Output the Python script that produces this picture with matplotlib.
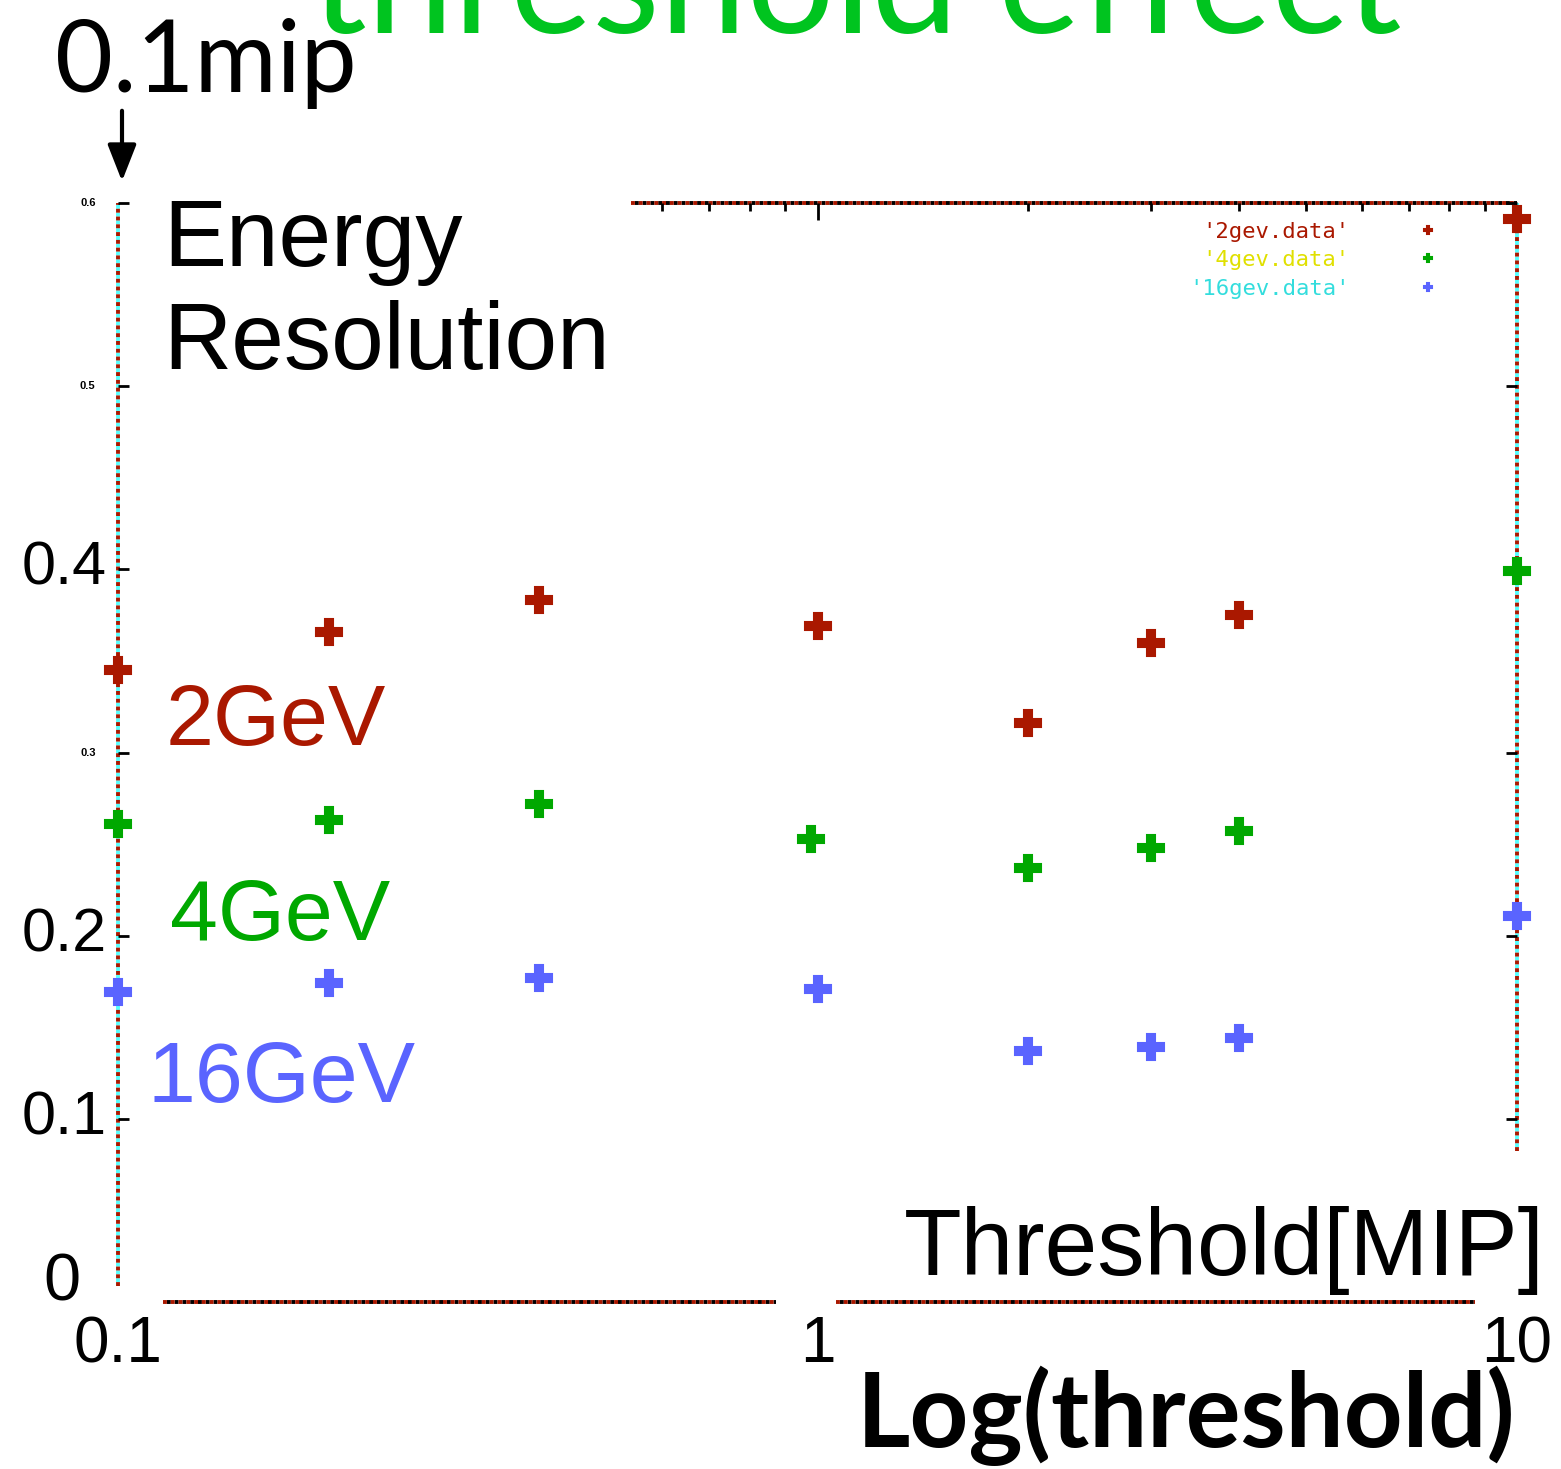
import matplotlib
matplotlib.use("Agg")
import matplotlib.pyplot as plt
from matplotlib.ticker import FixedLocator, NullFormatter

# threshold in MIP units and energy resolution per beam energy
threshold = [0.1, 0.2, 0.4, 1.0, 2.0, 3.0, 4.0, 10.0]
res_2gev = [0.345, 0.366, 0.383, 0.369, 0.316, 0.360, 0.375, 0.591]
res_4gev = [0.261, 0.263, 0.272, 0.253, 0.237, 0.248, 0.257, 0.399]
threshold_4gev = [0.1, 0.2, 0.4, 0.98, 2.0, 3.0, 4.0, 10.0]
res_16gev = [0.169, 0.174, 0.177, 0.171, 0.137, 0.139, 0.144, 0.211]

big_yticks = [0.1, 0.2, 0.4]
big_ylabels = ["0.1", "0.2", "0.4"]
small_yticks = [0.3, 0.5, 0.6]
small_ylabels = ["0.3", "0.5", "0.6"]
xtick_vals = [0.1, 1, 10]
xtick_labels = ["0.1", "1", "10"]
top_minor = [0.6, 0.7, 0.8, 0.9] + list(range(2, 10))

red = "#aa1800"
green = "#00a800"
blue = "#5a64ff"
cyan = "#55ffff"

W, H = 1561, 1469
fig = plt.figure(figsize=(W / 100, H / 100), dpi=100)
ax = fig.add_axes([118 / W, 1 - 1302 / H, 1399 / W, 1099 / H])
ax.set_xscale("log")
ax.set_xlim(0.1, 10)
ax.set_ylim(0, 0.6)
for s in ax.spines.values():
    s.set_visible(False)

# dashed gnuplot-style border
def border(xs, ys, c1, c2):
    ax.plot(xs, ys, transform=ax.transAxes, color=c1, gapcolor=c2,
            dashes=(1, 1), lw=2.8, clip_on=False, zorder=1)

border([0, 0], [0.015, 1], red, cyan)
border([1, 1], [0.137, 1], red, cyan)
border([0.367, 1], [1, 1], red, "black")
border([0.032, 0.47], [0, 0], red, "black")
border([0.513, 0.970], [0, 0], red, "black")

ax.tick_params(axis="both", which="both", direction="in", labelleft=False,
               labelbottom=False, color="black")
ax.tick_params(axis="y", which="major", length=8, width=2, left=True, right=True)
ax.set_yticks([0.1, 0.2, 0.3, 0.4, 0.5, 0.6])
ax.tick_params(axis="x", which="major", length=12, width=2, top=True, bottom=False)
ax.tick_params(axis="x", which="minor", length=6, width=2, top=True, bottom=False)
ax.xaxis.set_major_locator(FixedLocator([1]))
ax.xaxis.set_minor_locator(FixedLocator(top_minor))
ax.xaxis.set_minor_formatter(NullFormatter())

mk = dict(marker="P", linestyle="none", markersize=19, markeredgewidth=1.5, zorder=3, clip_on=False)
ax.plot(threshold, res_2gev, color=red, label="'2gev.data'", **mk)
ax.plot(threshold_4gev, res_4gev, color=green, label="'4gev.data'", **mk)
ax.plot(threshold, res_16gev, color=blue, label="'16gev.data'", **mk)

leg = ax.legend(loc="upper right", bbox_to_anchor=(0.952, 0.983), frameon=False,
                prop=dict(family="DejaVu Sans Mono", size=16), markerfirst=False,
                markerscale=0.3, handletextpad=2.5, labelspacing=0.38,
                borderpad=0, borderaxespad=0)
for t, c in zip(leg.get_texts(), [red, "#e0e000", "#33dddd"]):
    t.set_color(c)

tick_font = dict(family="Liberation Sans", color="black")
for v, s in zip(big_yticks, big_ylabels):
    ax.text(-0.008, v, s, transform=ax.get_yaxis_transform(), ha="right",
            va="center", fontsize=44, **tick_font)
ax.text(-0.027, 0.017, "0", transform=ax.transAxes, ha="right", va="center",
        fontsize=48, **tick_font)
for v, s in zip(small_yticks, small_ylabels):
    ax.text(-0.016, v, s, transform=ax.get_yaxis_transform(), ha="right",
            va="center", fontsize=8, fontweight="bold", **tick_font)
for v, s in zip(xtick_vals, xtick_labels):
    ax.text(v, -0.012, s, transform=ax.get_xaxis_transform(), ha="center",
            va="top", fontsize=46, **tick_font)

lab = dict(family="Liberation Sans", transform=fig.transFigure)
fig.text(163 / W, 1 - 266 / H, "Energy", fontsize=68, color="black", **lab)
fig.text(163 / W, 1 - 369 / H, "Resolution", fontsize=68, color="black", **lab)
fig.text(166 / W, 1 - 745 / H, "2GeV", fontsize=62, color=red, **lab)
fig.text(170 / W, 1 - 940 / H, "4GeV", fontsize=62, color=green, **lab)
fig.text(148 / W, 1 - 1102 / H, "16GeV", fontsize=62, color=blue, **lab)
fig.text(1545 / W, 1 - 1275 / H, "Threshold[MIP]", fontsize=68, color="black",
         ha="right", **lab)

slide = dict(family="Lato", transform=fig.transFigure)
fig.text(856 / W, 1 - 33 / H, "threshold effect", fontsize=112, color="#00c41f",
         ha="center", va="baseline", **slide)
fig.text(55 / W, 1 - 92 / H, "0.1mip", fontsize=72, color="black", va="baseline", **slide)
fig.text(1515 / W, 1 - 1447 / H, "Log(threshold)", fontsize=74, color="black",
         ha="right", va="baseline", fontweight="bold", **slide)

fig.patches.append(matplotlib.patches.FancyArrowPatch(
    (122 / W, 1 - 108 / H), (122 / W, 1 - 184 / H), transform=fig.transFigure,
    arrowstyle="-|>,head_length=1.4,head_width=0.55", mutation_scale=16,
    color="black", lw=3))

fig.savefig("out.png", dpi=100)
